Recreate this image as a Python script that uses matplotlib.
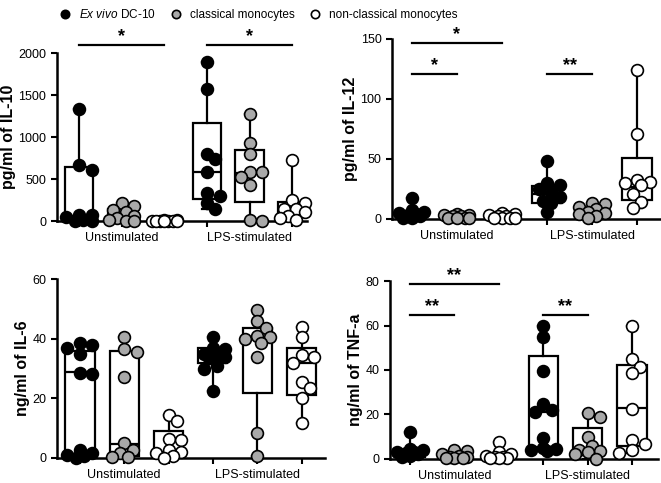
import numpy as np
import matplotlib
matplotlib.use("Agg")
import matplotlib.pyplot as plt
from matplotlib.lines import Line2D

plt.rcParams['font.family'] = ['Liberation Sans', 'DejaVu Sans']
plt.rcParams['mathtext.fontset'] = 'custom'
plt.rcParams['mathtext.it'] = 'Liberation Sans:italic'
plt.rcParams['mathtext.rm'] = 'Liberation Sans'

### group order: Unstim DC-10, classical, non-classical, LPS DC-10, classical, non-classical
groups = ["Unstimulated", "LPS-stimulated"]
series = ["$\\it{Ex\\ vivo}$ DC-10", "classical monocytes", "non-classical monocytes"]
face_cols = ["black", "#a9a9a9", "white"]

## IL-10 (pg/ml)
il10_pts = [[1330, 670, 615, 75, 70, 50, 10, 5, 0],
            [215, 180, 130, 110, 60, 40, 15, 5, 0],
            [12, 10, 8, 6, 5, 4, 3, 2, 0],
            [1900, 1570, 800, 735, 580, 340, 300, 220, 140],
            [1270, 930, 800, 590, 580, 530, 430, 20, 0],
            [725, 250, 220, 150, 140, 110, 60, 40, 20]]
il10_q1 = [10, 10, 0, 270, 230, 60]
il10_med = [64, 90, 3, 580, 570, 130]
il10_q3 = [645, 140, 8, 1165, 847, 231]

## IL-12 (pg/ml)
il12_pts = [[17, 7, 6, 5, 4, 3, 2, 1, 1],
            [4, 3, 3, 2, 2, 1, 1, 0.5, 0.5],
            [5, 4, 3, 2, 2, 1, 1, 0.5, 0.3],
            [48, 30, 28, 25, 22, 18, 15, 13, 5.5],
            [13, 12, 10, 8, 6, 5, 4, 2, 0.5],
            [124, 71, 32, 31, 30, 28, 21, 14, 9]]
il12_q1 = [1.5, 0.7, 0.7, 13.4, 1.7, 15.6]
il12_med = [3, 1.5, 1.5, 20.6, 4.5, 26.8]
il12_q3 = [6, 3, 3, 27.6, 7.2, 51]

## IL-6 (ng/ml)
il6_pts = [[38.5, 38, 37, 35, 28.5, 28.3, 2.5, 1.5, 1, 0.5, 0],
           [40.5, 36.5, 35.5, 27, 5, 2.5, 1.5, 0.3, 0.2],
           [14.5, 12.5, 6.5, 6, 2.5, 2, 1.5, 0.5, 0],
           [40.5, 37, 36.5, 35, 34.5, 34, 33.5, 31, 30, 22.5],
           [49.5, 46, 43.5, 41, 40.5, 40, 38.5, 34, 8.5, 0.5],
           [44, 40.7, 34.6, 34, 31.8, 25.6, 23.4, 20, 11.7]]
il6_q1 = [0.5, 0.5, 0.6, 32, 21.7, 21.2]
il6_med = [28.7, 4.8, 2, 34.6, 40.7, 31.8]
il6_q3 = [35.8, 35.9, 8.9, 36.8, 43.7, 37]

## TNF-a (ng/ml)
tnf_pts = [[12, 4.5, 4, 3, 3, 2.5, 2, 1.5, 1],
           [4, 3.5, 2, 1.5, 1, 0.8, 0.5, 0.3, 0.2],
           [7.5, 3, 2, 1.5, 1, 0.8, 0.5, 0.3, 0.2],
           [60, 55, 39.5, 24.5, 22, 21, 9.5, 5, 4.5, 4, 3.5],
           [20.5, 19, 10, 6, 4, 3.5, 3, 2, 0],
           [60, 45, 41.5, 38.5, 22.5, 8.5, 6.5, 4, 2.5]]
tnf_q1 = [1, 0.3, 0.3, 5.5, 2.5, 6]
tnf_med = [2.5, 0.8, 0.8, 21.2, 4, 22.7]
tnf_q3 = [4, 2, 2, 46.2, 13.8, 42.2]

## significance bars: (from group, to group, y, label)
il10_sig = [(0, 2, 2095, "*"), (3, 5, 2095, "*")]
il12_sig = [(0, 2, 146, "*"), (0, 1, 120.7, "*"), (3, 4, 120.7, "**")]
il6_sig = []
tnf_sig = [(0, 2, 78.5, "**"), (0, 1, 64.6, "**"), (3, 4, 64.6, "**")]


def swarm_x(ax, x0, vals, diam, maxoff):
    # simple beeswarm in pixel space
    pix = ax.transData.transform(np.column_stack([np.full(len(vals), x0), vals]))
    xc = pix[0, 0]
    placed = []
    out = []
    step = diam * 0.35
    cands = [0.0]
    k = 1
    while k * step <= maxoff:
        cands += [k * step, -k * step]
        k += 1
    for y in pix[:, 1]:
        best, bestd = 0.0, -1
        for c in cands:
            d = min([np.hypot(c - px, y - py) for px, py in placed] + [1e9])
            if d >= diam * 0.8:
                best = c
                break
            if d > bestd:
                best, bestd = c, d
        placed.append((best, y))
        out.append(xc + best)
    back = ax.transData.inverted().transform(np.column_stack([out, pix[:, 1]]))
    return back[:, 0]


def panel(rect, pts, q1, med, q3, sig, ylim, yticks, ylabel, xlim):
    ax = fig.add_axes(rect)
    ax.set_xlim(*xlim)
    ax.set_ylim(*ylim)
    stats = []
    for i in range(6):
        stats.append(dict(med=med[i], q1=q1[i], q3=q3[i],
                          whislo=min(pts[i]), whishi=max(pts[i]), fliers=[]))
    ax.bxp(stats, positions=range(6), widths=0.66, capwidths=0.22,
           patch_artist=True,
           boxprops=dict(facecolor="white", edgecolor="black", linewidth=1.6),
           medianprops=dict(color="black", linewidth=1.6),
           whiskerprops=dict(color="black", linewidth=1.6),
           capprops=dict(color="black", linewidth=1.6),
           manage_ticks=False, zorder=2)
    for i in range(6):
        xs = swarm_x(ax, i, pts[i], 12, 13)
        ax.plot(xs, pts[i], "o", ms=8.5, mfc=face_cols[i % 3], mec="black",
                mew=1.2, ls="none", zorder=3, clip_on=False)
    for a, b, y, lab in sig:
        ax.plot([a, b], [y, y], "-k", lw=1.6, clip_on=False)
        ax.text((a + b) / 2, y, lab, ha="center", va="bottom", fontsize=13,
                fontweight="bold")
    ax.set_yticks(yticks)
    ax.set_xticks(range(6))
    ax.set_xticklabels([])
    ax.xaxis.remove_overlapping_locs = False
    ax.set_xticks([1, 4], groups, minor=True)
    ax.tick_params(axis="x", which="minor", length=0, pad=8, labelsize=9)
    ax.tick_params(axis="both", which="major", length=4, width=1.5,
                   labelsize=9, colors="black")
    ax.set_ylabel(ylabel, fontsize=11.5, fontweight="bold", labelpad=2)
    ax.spines[["top", "right"]].set_visible(False)
    ax.spines[["left", "bottom"]].set_linewidth(1.8)
    return ax


fig = plt.figure(figsize=(6.61, 4.83), dpi=100)

panel([0.086, 0.542, 0.378, 0.348], il10_pts, il10_q1, il10_med, il10_q3,
      il10_sig, (0, 2000), [0, 500, 1000, 1500, 2000], "pg/ml of IL-10",
      (-0.52, 5.34))
panel([0.593, 0.547, 0.405, 0.373], il12_pts, il12_q1, il12_med, il12_q3,
      il12_sig, (0, 150), [0, 50, 100, 150], "pg/ml of IL-12",
      (-0.44, 5.5))
panel([0.086, 0.052, 0.405, 0.370], il6_pts, il6_q1, il6_med, il6_q3,
      il6_sig, (0, 60), [0, 20, 40, 60], "ng/ml of IL-6",
      (-0.52, 5.52))
panel([0.590, 0.050, 0.405, 0.368], tnf_pts, tnf_q1, tnf_med, tnf_q3,
      tnf_sig, (0, 80), [0, 20, 40, 60, 80], "ng/ml of TNF-a",
      (-0.45, 5.58))

handles = [Line2D([], [], marker="o", ls="none", ms=6, mfc=c, mec="black",
                  mew=1.2) for c in face_cols]
fig.legend(handles, series, loc="upper center", bbox_to_anchor=(0.39, 1.005),
           ncol=3, frameon=False, fontsize=8.5, handletextpad=0.6,
           columnspacing=1.1, handlelength=1.2)

plt.savefig("out.png", dpi=100)
